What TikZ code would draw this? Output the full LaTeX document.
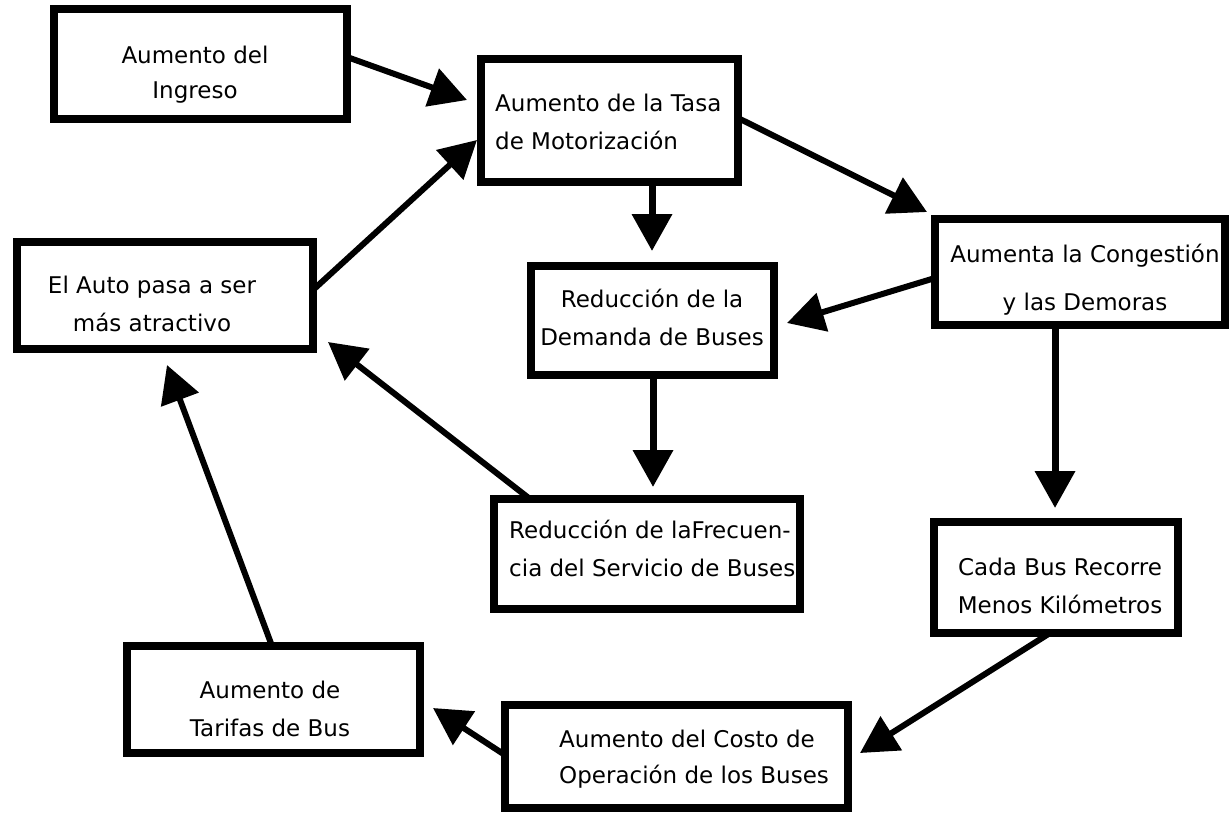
\documentclass[tikz,border=0pt]{standalone}
\usepackage{fontspec}
\setmainfont{DejaVu Sans}
\usetikzlibrary{arrows.meta}
\begin{document}
\begin{tikzpicture}[x=1pt,y=-1pt,
  box/.style 2 args={draw=black, line width=8pt, fill=white, rectangle,
    inner sep=0pt, outer sep=0pt, minimum width=#1pt, minimum height=#2pt},
  lbl/.style={inner sep=0pt, font=\fontsize{23}{38}\selectfont, align=center, anchor=base},
  lbll/.style={lbl, align=left, anchor=base west},
  arr/.style={line width=6pt, -{Triangle[length=37pt 0 0, width=39pt 0 0]}},
  varr/.style={arr, line width=7pt}
]
\useasboundingbox[fill=white] (0,0) rectangle (1230,814);

% boxes
\node[box={293}{110}] (b1) at (200.5,64) {};
\node[box={257}{123}] (b2) at (609.5,120.5) {};
\node[box={243}{109}] (b3) at (652.5,320.5) {};
\node[box={290}{106}] (b4) at (1080,272) {};
\node[box={296}{107}] (b5) at (165,295.5) {};
\node[box={306}{110}] (b6) at (647,554) {};
\node[box={244}{111}] (b7) at (1056,577.5) {};
\node[box={293}{107}] (b8) at (273.5,699.5) {};
\node[box={343}{103}] (b9) at (676.5,756.5) {};

% labels (positioned at the baseline of the last line)
\node[lbl, font=\fontsize{23}{35}\selectfont] (t1) at (195,98) {Aumento del\\Ingreso};
\node[lbll] (t2) at (495,149) {Aumento de la Tasa\\de Motorización};
\node[lbl] (t3) at (652,345) {Reducción de la\\Demanda de Buses};
\node[lbl, font=\fontsize{23}{48}\selectfont] (t4) at (1085,310) {Aumenta la Congestión\\y las Demoras};
\node[lbl] (t5) at (152,331) {El Auto pasa a ser\\más atractivo};
\node[lbll] (t6) at (509,576) {Reducción de laFrecuen-\\cia del Servicio de Buses};
\node[lbl] (t7) at (1060,613) {Cada Bus Recorre\\Menos Kilómetros};
\node[lbl] (t8) at (270,736) {Aumento de\\Tarifas de Bus};
\node[lbll, font=\fontsize{23}{36}\selectfont] (t9) at (559,783) {Aumento del Costo de\\Operación de los Buses};

% arrow tips
\coordinate (e1) at (467,100);
\coordinate (e2) at (477,140);
\coordinate (e3) at (652,251);
\coordinate (e4) at (927,212);
\coordinate (e5) at (787,323);
\coordinate (e6) at (653,487);
\coordinate (e7) at (1055,508);
\coordinate (e8) at (328,342);
\coordinate (e9) at (167,365);
\coordinate (e10) at (860,753);
\coordinate (e11) at (433,708);

% connectors
\draw[arr] (b1.east |- 0,57) -- (e1);
\draw[arr] (b5.east |- 0,290) -- (e2);
\draw[varr] (b2.south -| 652,0) -- (e3);
\draw[arr] (b2.east |- 0,118) -- (e4);
\draw[arr] (b4.west |- 0,278) -- (e5);
\draw[varr] (b3.south -| 653,0) -- (e6);
\draw[varr] (b4.south -| 1055,0) -- (e7);
\draw[arr] (b6.north -| 530,0) -- (e8);
\draw[arr] (b8.north -| 272,0) -- (e9);
\draw[arr] (b7.south -| 1050,0) -- (e10);
\draw[arr] (b9.west |- 0,755) -- (e11);
\end{tikzpicture}
\end{document}
